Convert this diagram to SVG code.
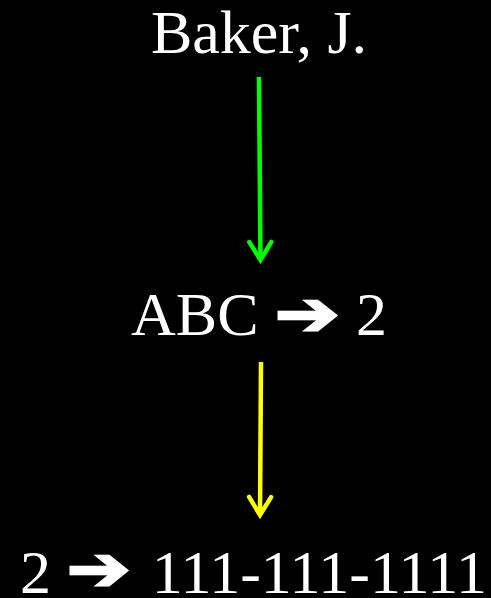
<svg xmlns="http://www.w3.org/2000/svg" width="491" height="598" viewBox="0 0 491 598">
<style>
.t{font-family:"Liberation Serif","Times New Roman",serif;font-size:62px;fill:#fff}
.a{font-family:"DejaVu Sans",sans-serif;font-size:62px;fill:#fff;stroke:#fff;stroke-width:2.2;stroke-linejoin:miter}
.c{fill:none;stroke-width:4.5}
</style>
<defs>
<marker id="hg" markerUnits="userSpaceOnUse" viewBox="-15 -25 30 30" refX="0" refY="0" markerWidth="30" markerHeight="30" orient="auto" overflow="visible">
<path d="M-18,-11 L0,0 L-18,11" fill="none" stroke="#00ff00" stroke-width="4.5" stroke-linecap="round"/>
</marker>
<marker id="hy" markerUnits="userSpaceOnUse" viewBox="-15 -25 30 30" refX="0" refY="0" markerWidth="30" markerHeight="30" orient="auto" overflow="visible">
<path d="M-18,-11 L0,0 L-18,11" fill="none" stroke="#ffff00" stroke-width="4.5" stroke-linecap="round"/>
</marker>
</defs>
<rect width="491" height="598" fill="#000"/>
<g id="connectors">
<line class="c" x1="259" y1="77" x2="260.5" y2="260" stroke="#00ff00" marker-end="url(#hg)"/>
<line class="c" x1="261" y1="362" x2="260" y2="515" stroke="#ffff00" marker-end="url(#hy)"/>
</g>
<g id="baker">
<text class="t" x="259" y="53" text-anchor="middle">Baker, J.</text>
</g>
<g id="abc">
<text class="t" x="131" y="335">ABC</text>
<text class="a" transform="translate(274.5,335) scale(1.26,1)">➔</text>
<text class="t" x="387" y="335" text-anchor="end">2</text>
</g>
<g id="phone">
<text class="t" x="20" y="593">2</text>
<text class="a" transform="translate(66.5,590) scale(1.24,1)">➔</text>
<text class="t" x="487" y="593" text-anchor="end">111-111-1111</text>
</g>
</svg>
